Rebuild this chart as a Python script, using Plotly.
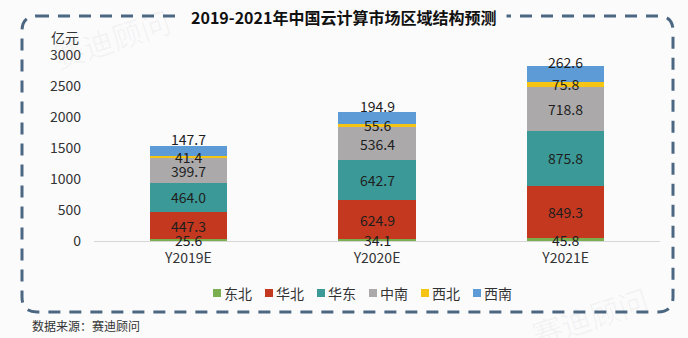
import plotly.graph_objects as go

# Data: China cloud computing market by region (亿元)
categories = ["Y2019E", "Y2020E", "Y2021E"]
regions = ["东北", "华北", "华东", "中南", "西北", "西南"]
northeast = [25.6, 34.1, 45.8]
north = [447.3, 624.9, 849.3]
east = [464.0, 642.7, 875.8]
central_south = [399.7, 536.4, 718.8]
northwest = [41.4, 55.6, 75.8]
southwest = [147.7, 194.9, 262.6]
y_ticks = [0, 500, 1000, 1500, 2000, 2500, 3000]

title_text = "2019-2021年中国云计算市场区域结构预测"
unit_text = "亿元"
source_text = "数据来源：赛迪顾问"
watermark_text = "赛迪顾问"

series = [northeast, north, east, central_south, northwest, southwest]
colors = ["#7BAE4E", "#C3381F", "#3B9A97", "#ABA9AA", "#F6C412", "#5C9BD6"]

FONT = "Noto Sans CJK SC, Noto Sans, sans-serif"
BG = "#FBFBFC"
W, H = 688, 338
M_L, M_R, M_T, M_B = 94, 28, 55, 97
PW = W - M_L - M_R
PH = H - M_T - M_B


def px(x):
    return (x - M_L) / PW


def py(y):
    return (H - M_B - y) / PH


fig = go.Figure()
for name, vals, col in zip(regions, series, colors):
    fig.add_trace(go.Bar(
        x=categories, y=vals, name=name,
        marker=dict(color=col, line=dict(width=0)),
        showlegend=False, hoverinfo="skip",
    ))

annotations = []
shapes = []

# value labels, centred on each stacked segment (top series lifted slightly)
base = [0.0] * len(categories)
for i, vals in enumerate(series):
    for j, v in enumerate(vals):
        annotations.append(dict(
            x=categories[j], y=base[j] + v / 2, xref="x", yref="y",
            text=f"{v:.1f}", showarrow=False,
            xanchor="center", yanchor="middle",
            yshift=12 if i == len(series) - 1 else 0,
            font=dict(family=FONT, size=14, color="#1E1E1E"),
        ))
        base[j] += v

# faint watermarks
for wx, wy, sz in [(112, 38, 30), (590, 316, 30)]:
    annotations.append(dict(
        x=px(wx), y=py(wy), xref="paper", yref="paper", text=watermark_text,
        showarrow=False, textangle=-18, xanchor="center", yanchor="middle",
        font=dict(family=FONT, size=sz, color="rgba(120,120,120,0.06)"),
    ))

# dashed rounded frame
x0, x1, y0, y1, r = 22, 673, 16, 312, 15
rx = r / PW
ry = r / PH
path = (
    f"M {px(x0)+rx},{py(y0)} L {px(x1)-rx},{py(y0)} "
    f"Q {px(x1)},{py(y0)} {px(x1)},{py(y0)-ry} "
    f"L {px(x1)},{py(y1)+ry} Q {px(x1)},{py(y1)} {px(x1)-rx},{py(y1)} "
    f"L {px(x0)+rx},{py(y1)} Q {px(x0)},{py(y1)} {px(x0)},{py(y1)+ry} "
    f"L {px(x0)},{py(y0)-ry} Q {px(x0)},{py(y0)} {px(x0)+rx},{py(y0)} Z"
)
shapes.append(dict(
    type="path", xref="paper", yref="paper", path=path,
    line=dict(color="#4B6782", width=3, dash="12px,9px"), layer="below",
))

# title sits on the frame with a background knock-out
annotations.append(dict(
    x=px(343), y=py(17), xref="paper", yref="paper", text=f"<b>{title_text}</b>",
    showarrow=False, bgcolor=BG, borderpad=10,
    xanchor="center", yanchor="middle",
    font=dict(family=FONT, size=16, color="#111111"),
))

# unit label
annotations.append(dict(
    x=px(81), y=py(37), xref="paper", yref="paper", text=unit_text,
    showarrow=False, xanchor="right", yanchor="middle",
    font=dict(family=FONT, size=14, color="#333333"),
))

# source footnote
annotations.append(dict(
    x=px(30), y=py(325), xref="paper", yref="paper", text=source_text,
    showarrow=False, xanchor="left", yanchor="middle",
    font=dict(family=FONT, size=12, color="#333333"),
))

# legend row
lx0, lstep, ly, msz = 213, 52, 293, 8
for k, (name, col) in enumerate(zip(regions, colors)):
    mx = lx0 + k * lstep
    shapes.append(dict(
        type="rect", xref="paper", yref="paper",
        x0=px(mx), x1=px(mx + msz), y0=py(ly + msz / 2), y1=py(ly - msz / 2),
        fillcolor=col, line=dict(width=0),
    ))
    annotations.append(dict(
        x=px(mx + msz + 1), y=py(ly), xref="paper", yref="paper", text=name,
        showarrow=False, xanchor="left", yanchor="middle",
        font=dict(family=FONT, size=14, color="#333333"),
    ))

fig.update_layout(
    width=W, height=H,
    margin=dict(l=M_L, r=M_R, t=M_T, b=M_B),
    paper_bgcolor=BG, plot_bgcolor="rgba(0,0,0,0)",
    barmode="stack", bargap=0.59,
    font=dict(family=FONT, size=14, color="#333333"),
    annotations=annotations, shapes=shapes,
    showlegend=False,
    xaxis=dict(
        showline=True, linecolor="#D6D6D6", linewidth=1, ticks="",
        showgrid=False, zeroline=False, ticklabelstandoff=4,
        tickfont=dict(family=FONT, size=14, color="#333333"),
    ),
    yaxis=dict(
        range=[0, 3000], tickvals=y_ticks, ticktext=[str(t) for t in y_ticks],
        showgrid=False, zeroline=False, showline=False, ticks="",
        ticklabelstandoff=12,
        tickfont=dict(family=FONT, size=14, color="#333333"),
    ),
)

fig.write_html("out.html")
